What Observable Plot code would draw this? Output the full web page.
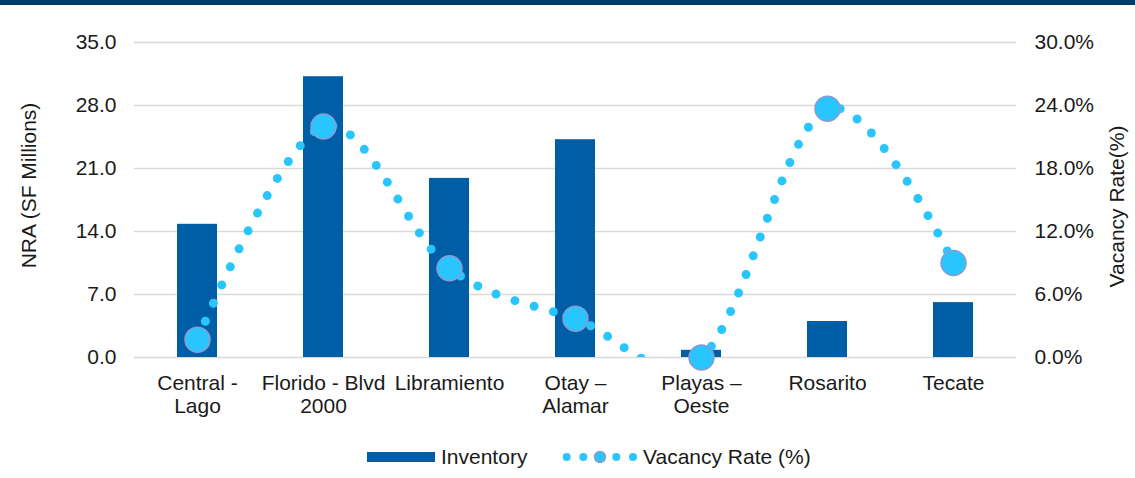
<!DOCTYPE html>
<html><head><meta charset="utf-8">
<script src="https://cdn.jsdelivr.net/npm/d3@7"></script>
<script src="https://cdn.jsdelivr.net/npm/@observablehq/plot@0.6"></script>
<style>
body{margin:0;background:#fff;font-family:"Liberation Sans",Arial,sans-serif;}
#wrap{position:relative;width:1135px;height:478px;overflow:hidden;background:#fff}
#band{position:absolute;left:0;top:0;width:1135px;height:5px;background:#003d6e}
#chart{position:absolute;left:0;top:5px}
#legend{position:absolute;left:0;top:440px}
</style></head><body>
<div id="wrap"><div id="band"></div><div id="chart"></div><svg id="legend" width="1135" height="34"></svg></div>
<script>
const categories = ["Central - Lago", "Florido - Blvd 2000", "Libramiento", "Otay – Alamar", "Playas – Oeste", "Rosarito", "Tecate"];
const tickLabels = ["Central -\nLago", "Florido - Blvd\n2000", "Libramiento", "Otay –\nAlamar", "Playas –\nOeste", "Rosarito", "Tecate"];
const inventory = [14.8, 31.2, 19.9, 24.2, 0.8, 4.0, 6.1];
const vacancyRate = [1.7, 22.0, 8.5, 3.7, 0.0, 23.7, 9.0];
const leftTicks = [0, 7, 14, 21, 28, 35];
const rightTicks = [0, 6, 12, 18, 24, 30];
const seriesNames = ["Inventory", "Vacancy Rate (%)"];
const axisTitles = ["NRA (SF Millions)", "Vacancy Rate(%)"];

const BAR = "#005ea6", DOT = "#29c5ff", DOT_STROKE = "#8c9bcf", INK = "#1a1a1a";
const k = leftTicks[leftTicks.length - 1] / rightTicks[rightTicks.length - 1];
const data = categories.map((c, i) => ({category: c, inventory: inventory[i], vScaled: vacancyRate[i] * k}));

const plot = Plot.plot({
  width: 1135, height: 420,
  marginTop: 37, marginBottom: 68, marginLeft: 134, marginRight: 119,
  style: {fontFamily: "'Liberation Sans', Arial, sans-serif", fontSize: "21px", color: INK, background: "#fff"},
  x: {domain: categories, paddingInner: 0.683, paddingOuter: 0.3415},
  y: {domain: [0, leftTicks[leftTicks.length - 1]]},
  marks: [
    Plot.gridY(leftTicks, {stroke: "#d9d9d9", strokeOpacity: 1, strokeWidth: 1.5}),
    Plot.barY(data, {x: "category", y: "inventory", fill: BAR}),
    Plot.line(data, {x: "category", y: "vScaled", curve: "cardinal", stroke: DOT, strokeWidth: 9, strokeDasharray: "0 20", strokeLinecap: "round", clip: true}),
    Plot.dot(data, {x: "category", y: "vScaled", r: 12.5, fill: DOT, stroke: DOT_STROKE, strokeWidth: 1.5}),
    Plot.axisY(leftTicks, {anchor: "left", tickSize: 0, tickPadding: 18, tickFormat: d => d.toFixed(1), label: null}),
    Plot.axisY(rightTicks.map(t => t * k), {anchor: "right", tickSize: 0, tickPadding: 18, tickFormat: d => (d / k).toFixed(1) + "%", label: null}),
    Plot.axisX({tickSize: 0, tickPadding: 16, tickFormat: d => tickLabels[categories.indexOf(d)], lineHeight: 1.1, label: null}),
    Plot.text([axisTitles[0]], {frameAnchor: "left", rotate: -90, textAnchor: "middle", dx: -105, dy: -14.5}),
    Plot.text([axisTitles[1]], {frameAnchor: "right", rotate: -90, textAnchor: "middle", dx: 101, dy: 6.5})
  ]
});
document.getElementById("chart").appendChild(plot);

// legend
const lg = d3.select("#legend");
lg.append("rect").attr("x", 367).attr("y", 12).attr("width", 68).attr("height", 10).attr("fill", BAR);
lg.append("text").attr("x", 441).attr("y", 17).attr("dy", "0.35em").attr("font-size", 21).attr("fill", INK)
  .attr("font-family", "'Liberation Sans', Arial, sans-serif").text(seriesNames[0]);
[566.7, 583.3, 616.3, 633].forEach(x => lg.append("circle").attr("cx", x).attr("cy", 17).attr("r", 4).attr("fill", DOT));
lg.append("circle").attr("cx", 600).attr("cy", 17).attr("r", 5.5).attr("fill", DOT).attr("stroke", DOT_STROKE).attr("stroke-width", 1.5);
lg.append("text").attr("x", 643).attr("y", 17).attr("dy", "0.35em").attr("font-size", 21).attr("fill", INK)
  .attr("font-family", "'Liberation Sans', Arial, sans-serif").text(seriesNames[1]);
</script>
</body></html>
